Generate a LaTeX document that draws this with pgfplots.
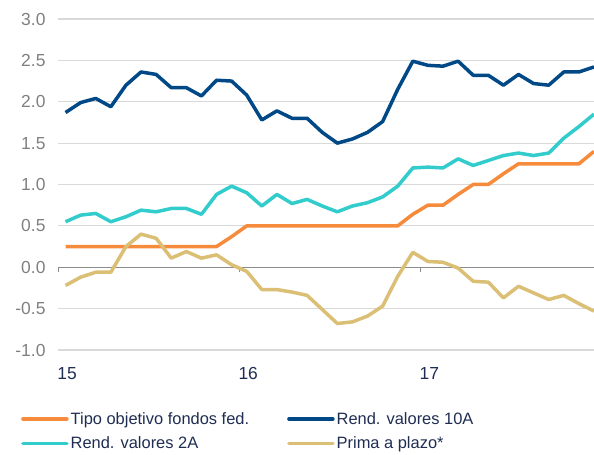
\documentclass[border=0pt]{standalone}
\usepackage{fontspec}
\setmainfont{Liberation Sans}
\usepackage{pgfplots}
\usepackage{pgfplotstable}
\pgfplotsset{compat=1.18}
\definecolor{fedor}{RGB}{246,139,59}
\definecolor{navy}{RGB}{0,73,134}
\definecolor{cyanl}{RGB}{50,204,204}
\definecolor{gold}{RGB}{218,191,117}
\definecolor{txtnavy}{RGB}{31,45,82}
\definecolor{gridg}{RGB}{217,217,217}
\definecolor{zerog}{RGB}{140,140,140}
\definecolor{labg}{RGB}{128,128,128}

\pgfplotstableread{
i fed y10 y2 tp
0 0.25 1.87 0.55 -0.22
1 0.25 1.99 0.63 -0.12
2 0.25 2.04 0.65 -0.06
3 0.25 1.94 0.55 -0.06
4 0.25 2.20 0.61 0.25
5 0.25 2.36 0.69 0.40
6 0.25 2.33 0.67 0.35
7 0.25 2.17 0.71 0.11
8 0.25 2.17 0.71 0.19
9 0.25 2.07 0.64 0.11
10 0.25 2.26 0.88 0.15
11 0.37 2.25 0.98 0.03
12 0.50 2.08 0.90 -0.05
13 0.50 1.78 0.74 -0.27
14 0.50 1.89 0.88 -0.27
15 0.50 1.80 0.77 -0.30
16 0.50 1.80 0.82 -0.34
17 0.50 1.63 0.74 -0.51
18 0.50 1.50 0.67 -0.68
19 0.50 1.55 0.74 -0.66
20 0.50 1.63 0.78 -0.59
21 0.50 1.76 0.85 -0.47
22 0.50 2.15 0.98 -0.11
23 0.64 2.49 1.20 0.18
24 0.75 2.44 1.21 0.07
25 0.75 2.43 1.20 0.06
26 0.88 2.49 1.31 -0.01
27 1.00 2.32 1.23 -0.17
28 1.00 2.32 1.29 -0.18
29 1.13 2.20 1.35 -0.37
30 1.25 2.33 1.38 -0.23
31 1.25 2.22 1.35 -0.31
32 1.25 2.20 1.38 -0.39
33 1.25 2.36 1.56 -0.34
34 1.25 2.36 1.70 -0.44
35 1.40 2.42 1.85 -0.53
}\data

\begin{document}
\begin{tikzpicture}
\begin{axis}[
  name=ax,
  scale only axis,
  width=536bp, height=331bp,
  xmin=-0.5, xmax=35,
  ymin=-1, ymax=3,
  ytick={-1,-0.5,0,0.5,1,1.5,2,2.5,3},
  xtick={0,12,24},
  xticklabels={15,16,17},
  axis x line*=bottom, axis y line*=left,
  axis line style={draw=none},
  major tick length=0pt,
  tick style={draw=none},
  ymajorgrids,
  grid style={gridg, line width=1.2bp},
  /pgf/number format/assume math mode=true,
  yticklabel style={/pgf/number format/fixed, /pgf/number format/fixed zerofill,
     /pgf/number format/precision=1, text=labg, xshift=-9bp},
  xticklabel style={text=txtnavy, yshift=-14bp, xshift=1.5bp},
  tick label style={font=\fontsize{17.5}{21}\selectfont},
  every axis plot/.append style={line width=3.5bp, line join=round},
  legend columns=2,
  legend image code/.code={\draw[#1, line cap=round] (0bp,0bp) -- (44bp,0bp);},
  legend style={at={(-40/536,-58/331)}, anchor=north west, draw=none, fill=none,
     font=\fontsize{16.5}{20}\selectfont, text=txtnavy,
     /tikz/every even column/.append style={column sep=36bp},
     row sep=7bp},
  legend cell align=left,
]
\draw[zerog, line width=1.3bp] (axis cs:-0.5,0) -- (axis cs:35,0);
\draw[zerog, line width=1bp] (axis cs:-0.5,0) -- ([yshift=-4.5bp]axis cs:-0.5,0);
\draw[zerog, line width=1bp] (axis cs:11.5,0) -- ([yshift=-4.5bp]axis cs:11.5,0);
\draw[zerog, line width=1bp] (axis cs:23.5,0) -- ([yshift=-4.5bp]axis cs:23.5,0);
\addplot[fedor] table[x=i, y=fed] {\data};
\addlegendentry{Tipo objetivo fondos fed.}
\addplot[navy] table[x=i, y=y10] {\data};
\addlegendentry{Rend. valores 10A}
\addplot[cyanl] table[x=i, y=y2] {\data};
\addlegendentry{Rend. valores 2A}
\addplot[gold] table[x=i, y=tp] {\data};
\addlegendentry{Prima a plazo*}
\end{axis}
\pgfresetboundingbox
\path[use as bounding box] ([shift={(-58bp,-105bp)}]ax.south west) rectangle ([shift={(0bp,19bp)}]ax.north east);
\end{tikzpicture}
\end{document}
